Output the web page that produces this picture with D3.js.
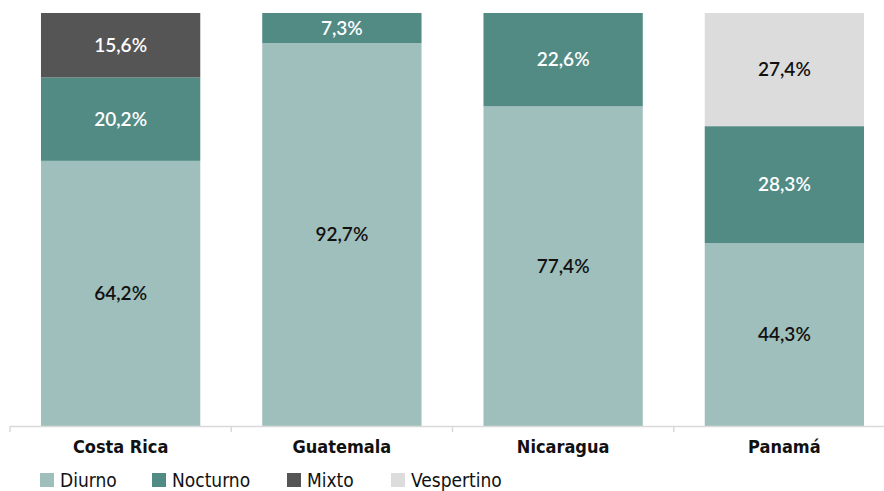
<!DOCTYPE html>
<html><head><meta charset="utf-8">
<script src="https://cdn.jsdelivr.net/npm/d3@7"></script>
<style>body{margin:0;background:#fff}svg{display:block}</style>
</head><body>
<svg id="c" width="884" height="491"></svg>
<script>
const categories = ["Costa Rica", "Guatemala", "Nicaragua", "Panamá"];
const seriesNames = ["Diurno", "Nocturno", "Mixto", "Vespertino"];
const diurno = [64.2, 92.7, 77.4, 44.3];
const nocturno = [20.2, 7.3, 22.6, 28.3];
const mixto = [15.6, 0, 0, 0];
const vespertino = [0, 0, 0, 27.4];
const colors = ["#9fbfbc", "#518b84", "#555555", "#dcdcdc"];
const labelColors = ["#111", "#fff", "#fff", "#111"];

const rows = categories.map((c, i) => ({cat: c, Diurno: diurno[i], Nocturno: nocturno[i], Mixto: mixto[i], Vespertino: vespertino[i]}));
const svg = d3.select("#c");
const x = d3.scaleBand().domain(categories).range([10, 895]).paddingInner(0.28).paddingOuter(0.14);
const y = d3.scaleLinear().domain([0, 100]).range([426, 13]);
const stack = d3.stack().keys(seriesNames)(rows);
const fmt = v => d3.format(".1f")(v).replace(".", ",") + "%";
const labelFont = "Lato, 'Open Sans', sans-serif";
const axisFont = "'Liberation Sans Narrow', 'DejaVu Sans Condensed', Roboto, sans-serif";

stack.forEach((s, si) => {
  const g = svg.append("g");
  g.selectAll("rect").data(s.filter(d => d[1] - d[0] > 0)).join("rect")
    .attr("x", d => x(d.data.cat)).attr("width", x.bandwidth())
    .attr("y", d => y(d[1])).attr("height", d => y(d[0]) - y(d[1]))
    .attr("fill", colors[si]);
  g.selectAll("text").data(s.filter(d => d[1] - d[0] > 0)).join("text")
    .attr("x", d => x(d.data.cat) + x.bandwidth() / 2)
    .attr("y", d => (y(d[0]) + y(d[1])) / 2)
    .attr("dy", "0.35em").attr("text-anchor", "middle")
    .attr("font-family", labelFont).attr("font-size", 19).attr("font-weight", 600)
    .attr("fill", labelColors[si])
    .text(d => fmt(d[1] - d[0]));
});

// axis
const ax = svg.append("g");
ax.append("line").attr("x1", 10).attr("x2", 884).attr("y1", 426.5).attr("y2", 426.5).attr("stroke", "#d9d9d9").attr("stroke-width", 1.5);
const step = x.step();
ax.selectAll("line.t").data(d3.range(categories.length)).join("line").attr("class", "t")
  .attr("x1", i => 10 + i * step).attr("x2", i => 10 + i * step)
  .attr("y1", 426).attr("y2", 432).attr("stroke", "#d9d9d9").attr("stroke-width", 1.5);
ax.selectAll("text").data(categories).join("text")
  .attr("x", d => x(d) + x.bandwidth() / 2).attr("y", 447).attr("dy", "0.35em")
  .attr("text-anchor", "middle").attr("font-family", axisFont).attr("font-size", 18).attr("font-weight", "bold")
  .attr("fill", "#111").text(d => d);

// legend
const legX = [40, 152, 287, 391];
const lg = svg.append("g");
seriesNames.forEach((n, i) => {
  lg.append("rect").attr("x", legX[i]).attr("y", 473).attr("width", 14).attr("height", 14).attr("fill", colors[i]);
  lg.append("text").attr("x", legX[i] + 20).attr("y", 480).attr("dy", "0.35em")
    .attr("font-family", axisFont).attr("font-size", 19).attr("fill", "#111").text(n);
});
</script>
</body></html>
